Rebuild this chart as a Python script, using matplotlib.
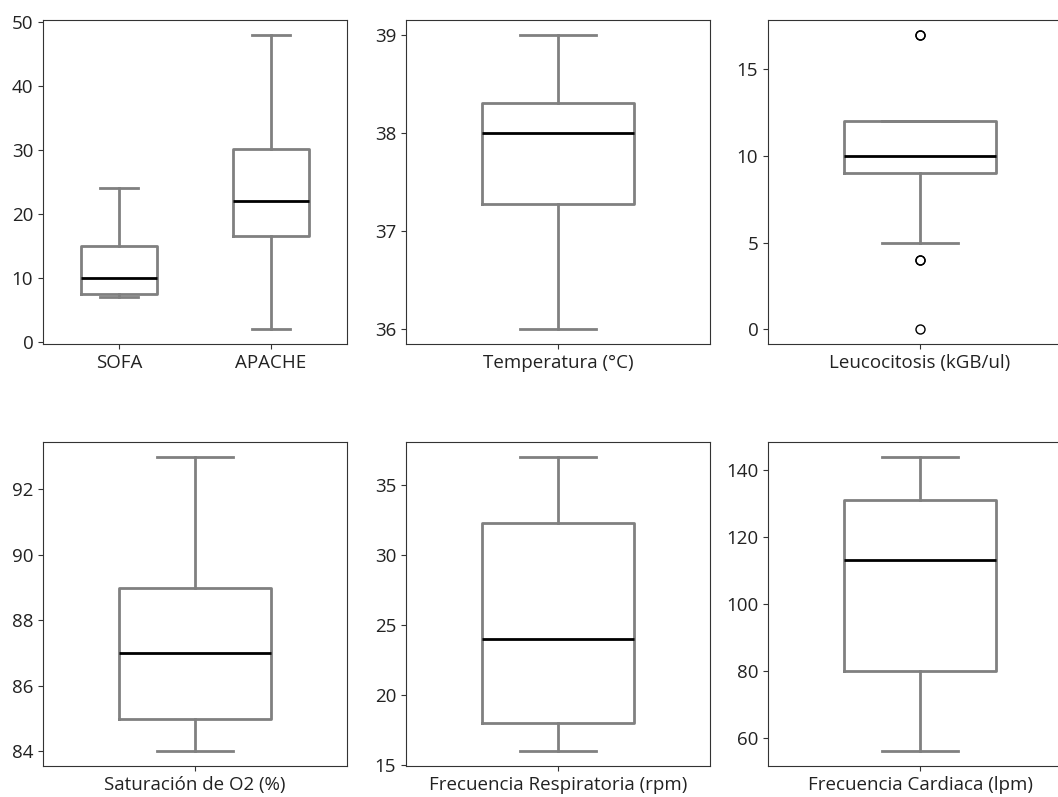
import matplotlib
matplotlib.use('Agg')
import matplotlib.pyplot as plt
from matplotlib.ticker import MultipleLocator

plt.rcParams['font.family'] = ['Open Sans', 'DejaVu Sans']
plt.rcParams['font.size'] = 13.5

# box statistics: whislo, q1, med, q3, whishi
labels = [['SOFA', 'APACHE'],
          ['Temperatura (°C)'],
          ['Leucocitosis (kGB/ul)'],
          ['Saturación de O2 (%)'],
          ['Frecuencia Respiratoria (rpm)'],
          ['Frecuencia Cardiaca (lpm)']]
whislo = [[7, 2], [36], [5], [84], [16], [56]]
q1 = [[7.5, 16.5], [37.28], [9], [85], [18], [80]]
med = [[10, 22], [38], [10], [87], [24], [113]]
q3 = [[15, 30.2], [38.3], [12], [89], [32.25], [131]]
whishi = [[24, 48], [39], [12], [93], [37], [144]]
fliers = [[[], []], [[]], [[17, 17, 4, 4, 0]], [[]], [[]], [[]]]
tick_step = [10, 1, 5, 2, 5, 20]

fig = plt.figure(figsize=(10.58, 7.97), dpi=100)
lefts = [43, 406, 768]
tops = [20, 442]
w, h = 304, 324

for i in range(6):
    r, c = divmod(i, 3)
    ax = fig.add_axes([lefts[c] / 1058, (797 - tops[r] - h) / 797, w / 1058, h / 797])
    stats = []
    for j in range(len(labels[i])):
        stats.append(dict(label=labels[i][j], whislo=whislo[i][j], q1=q1[i][j],
                          med=med[i][j], q3=q3[i][j], whishi=whishi[i][j],
                          fliers=fliers[i][j]))
    grey = dict(color='#808080', linewidth=2.0)
    ax.bxp(stats, widths=0.5,
           boxprops=grey, whiskerprops=grey, capprops=grey,
           medianprops=dict(color='black', linewidth=2.0),
           flierprops=dict(marker='o', markerfacecolor='none',
                           markeredgecolor='black', markersize=6.5))
    ax.yaxis.set_major_locator(MultipleLocator(tick_step[i]))
    for s in ax.spines.values():
        s.set_color('#333333')
    ax.tick_params(colors='#333333', labelcolor='#222222')

fig.savefig('out.png', dpi=100)
